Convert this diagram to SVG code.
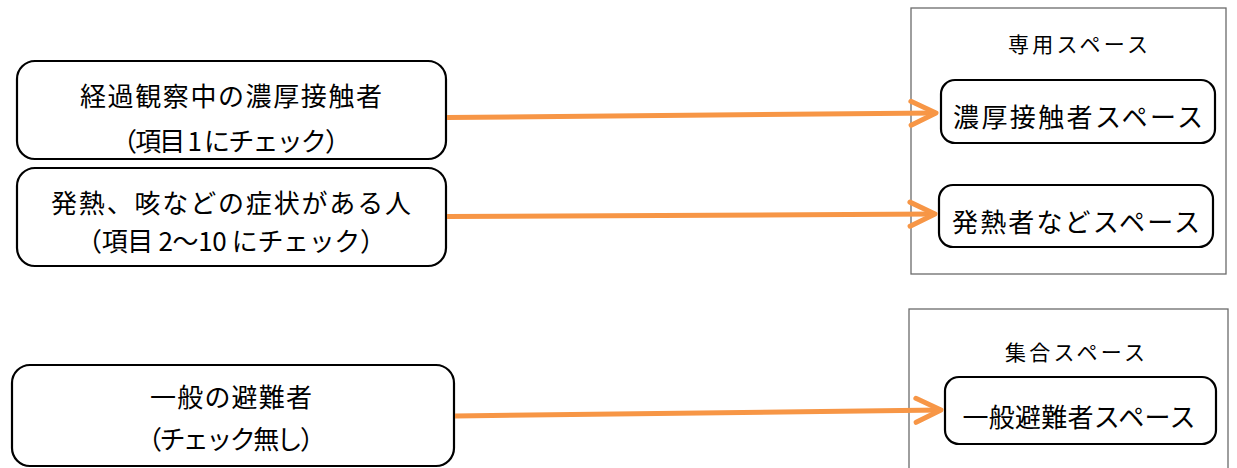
<svg xmlns="http://www.w3.org/2000/svg" width="1237" height="468" viewBox="0 0 1237 468">
<style>
.box{fill:#fff;stroke:#000;stroke-width:2.2}
.cont{fill:#fff;stroke:#6b6b6b;stroke-width:1.3}
.t{font-family:"Noto Sans CJK JP","Noto Sans",sans-serif;font-size:26px;fill:#000;text-anchor:middle;dominant-baseline:central}
.s{font-family:"Noto Sans CJK JP","Noto Sans",sans-serif;font-size:21px;fill:#000;text-anchor:middle;dominant-baseline:central}
.conn{stroke:#f79646;stroke-width:5;fill:none;marker-end:url(#ah)}
</style>
<defs>
<marker id="ah" markerUnits="userSpaceOnUse" viewBox="-30 -16 34 32" refX="0" refY="0" markerWidth="34" markerHeight="32" orient="auto" overflow="visible">
<path d="M-25,-12 L0,0 L-25,12" fill="none" stroke="#f79646" stroke-width="5" stroke-linecap="round" stroke-linejoin="round"/>
</marker>
</defs>
<rect width="1237" height="468" fill="#fff"/>
<g id="container1">
<rect class="cont" x="911" y="8" width="315" height="266"/>
<text class="s" x="1078" y="43" textLength="140">専用スペース</text>
</g>
<g id="container2">
<rect class="cont" x="909" y="309" width="319" height="170"/>
<text class="s" x="1075" y="351" textLength="140">集合スペース</text>
</g>
<g id="src1">
<rect class="box" x="17" y="61" width="429" height="98" rx="18"/>
<text class="t" x="231" y="94" textLength="302">経過観察中の濃厚接触者</text>
<text class="t" x="231" y="139" textLength="240">（項目 1 にチェック）</text>
</g>
<g id="src2">
<rect class="box" x="17" y="168" width="429" height="98" rx="18"/>
<text class="t" x="231" y="201" textLength="360">発熱、咳などの症状がある人</text>
<text class="t" x="231" y="239" textLength="310">（項目 2～10 にチェック）</text>
</g>
<g id="src3">
<rect class="box" x="12" y="365" width="442" height="101" rx="18"/>
<text class="t" x="231" y="395" textLength="162">一般の避難者</text>
<text class="t" x="231" y="437" textLength="190">（チェック無し）</text>
</g>
<g id="dst1">
<rect class="box" x="941" y="80" width="274" height="63" rx="14"/>
<text class="t" x="1078" y="115" textLength="250">濃厚接触者スペース</text>
</g>
<g id="dst2">
<rect class="box" x="939" y="185" width="274" height="62" rx="14"/>
<text class="t" x="1076" y="220" textLength="248">発熱者などスペース</text>
</g>
<g id="dst3">
<rect class="box" x="945" y="377" width="271" height="67" rx="14"/>
<text class="t" x="1079" y="415" textLength="233">一般避難者スペース</text>
</g>
<g id="connectors">
<line class="conn" x1="447" y1="117.5" x2="936" y2="113"/>
<line class="conn" x1="447" y1="216.5" x2="935" y2="214"/>
<line class="conn" x1="455" y1="416" x2="941" y2="410"/>
</g>
</svg>
